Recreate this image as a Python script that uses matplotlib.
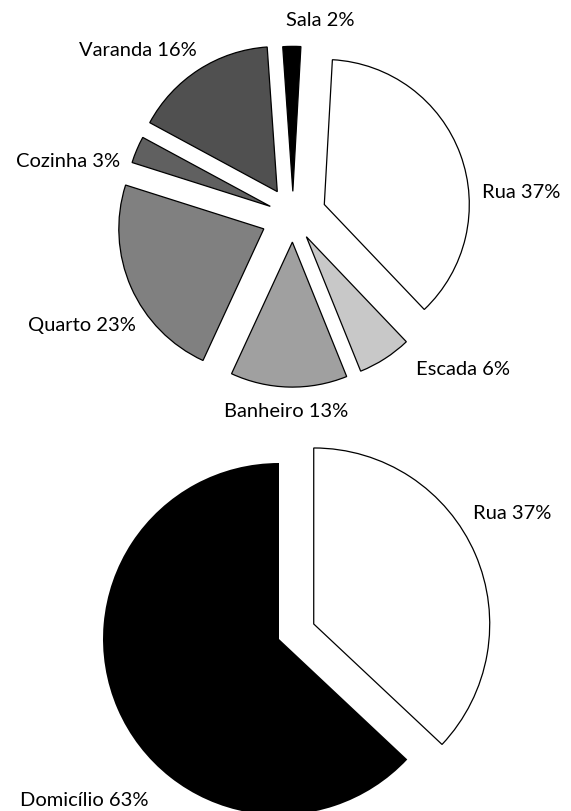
import matplotlib
matplotlib.use("Agg")
import matplotlib.pyplot as plt

# ---- data ----
top_categories = ["Sala", "Rua", "Escada", "Banheiro", "Quarto", "Cozinha", "Varanda"]
top_values = [2, 37, 6, 13, 23, 3, 16]
bottom_categories = ["Rua", "Domicílio"]
bottom_values = [37, 63]

# ---- styles ----
top_colors = ["#000000", "#ffffff", "#c8c8c8", "#a0a0a0", "#808080", "#606060", "#505050"]
top_explode = [0.17, 0.23, 0.17, 0.18, 0.22, 0.17, 0.20]
bottom_colors = ["#ffffff", "#000000"]
bottom_explode = [0.215, 0.0]

W, H = 571, 812
fig = plt.figure(figsize=(W / 100, H / 100), dpi=100)
plt.rcParams['font.family'] = ['Lato', 'DejaVu Sans']


def pie_axes(cx, cy, r, half):
    # cx, cy image pixel coords; r pixels per unit; half = half extent in units
    size = 2 * half * r
    ax = fig.add_axes([(cx - half * r) / W, (H - cy - half * r) / H, size / W, size / H])
    return ax, half


ax1, h1 = pie_axes(293, 217, 145, 1.8)
wedges, _ = ax1.pie(top_values, colors=top_colors, explode=top_explode, startangle=94,
                    counterclock=False, radius=1.0, frame=False,
                    wedgeprops=dict(edgecolor="black", linewidth=0.9, joinstyle="miter"))
ax1.set_xlim(-h1, h1)
ax1.set_ylim(-h1, h1)
ax1.set_aspect("equal")
ax1.axis("off")

ax2, h2 = pie_axes(279, 640, 176, 1.6)
w2, _ = ax2.pie(bottom_values, colors=bottom_colors, explode=bottom_explode, startangle=90,
                counterclock=False, radius=1.0, frame=False,
                wedgeprops=dict(linewidth=0.9, joinstyle="miter"))
w2[0].set_edgecolor("black")
w2[1].set_edgecolor("none")
ax2.set_xlim(-h2, h2)
ax2.set_ylim(-h2, h2)
ax2.set_aspect("equal")
ax2.axis("off")

# ---- labels (center x, baseline y in pixels) ----
top_label_pos = {"Sala": (320, 26), "Rua": (521, 198), "Escada": (463, 375),
                 "Banheiro": (286, 417), "Quarto": (81.5, 331.5), "Cozinha": (68.5, 167),
                 "Varanda": (137.5, 56.5)}
bottom_label_pos = {"Rua": (512.5, 519), "Domicílio": (84, 806)}

fs = 14.5
for cat, val in zip(top_categories, top_values):
    x, y = top_label_pos[cat]
    fig.text(x / W, 1 - y / H, f"{cat} {val}%", fontsize=fs, ha="center", va="baseline")
for cat, val in zip(bottom_categories, bottom_values):
    x, y = bottom_label_pos[cat]
    fig.text(x / W, 1 - y / H, f"{cat} {val}%", fontsize=fs, ha="center", va="baseline")

fig.savefig("out.png", dpi=100, facecolor="white")
